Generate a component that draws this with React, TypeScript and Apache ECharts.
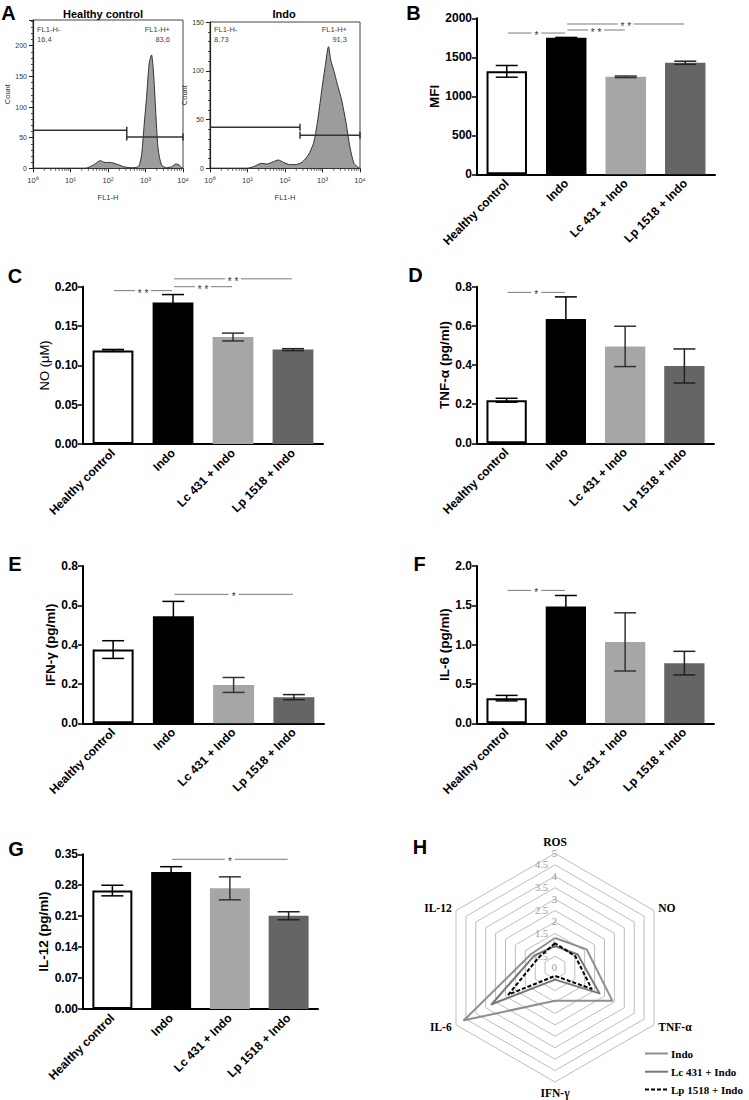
import React, { useEffect, useRef } from "react";
import * as echarts from "echarts";

// ---------------- data ----------------
const groups = ["Healthy control", "Indo", "Lc 431 + Indo", "Lp 1518 + Indo"];

// Panel A: flow cytometry histograms [log10(FL1-H), count]
const healthyHist = [
  [0, 0], [1.4, 0], [1.5, 2], [1.61, 5.4], [1.72, 10], [1.79, 12.4], [1.92, 9.5], [2.05, 9.5],
  [2.23, 7], [2.41, 2.7], [2.6, 1], [2.75, 1.5], [2.83, 4], [2.9, 24], [2.96, 68], [3.03, 117],
  [3.1, 172], [3.16, 185], [3.22, 150], [3.28, 84], [3.34, 30], [3.43, 5.4], [3.56, 1], [3.7, 2.6],
  [3.81, 7], [3.9, 5.4], [3.97, 1], [4, 0],
];
const indoHist = [
  [0, 0], [0.98, 0], [1.16, 1.7], [1.38, 5.1], [1.51, 4.4], [1.69, 6.8], [1.82, 8.5], [1.96, 6.1],
  [2.09, 4.1], [2.27, 3.8], [2.45, 6.1], [2.62, 13.6], [2.76, 25.6], [2.86, 46], [2.98, 80],
  [3.07, 104], [3.16, 124.7], [3.22, 111], [3.31, 99], [3.39, 87], [3.51, 70], [3.63, 46],
  [3.73, 22], [3.84, 5], [3.96, 0.7], [4, 0],
];
// gates: [from, to, level, tick at left end (1/0)]
const healthyGates = [[0, 2.5, 62, 0], [2.5, 4, 51, 1]];
const indoGates = [[0, 2.4, 42, 0], [2.4, 4, 34, 1]];
const healthyPct = ["16,4", "83,6"];
const indoPct = ["8,73", "91,3"];
const minorMultipliers = [2, 3, 4, 5, 6, 7, 8, 9];
const decades = [0, 1, 2, 3];

// Panels B-G: mean and SEM per group
const rosMean = [1320, 1750, 1250, 1430];
const rosSem = [75, 5, 10, 20];
const noMean = [0.119, 0.18, 0.136, 0.12];
const noSem = [0.0012, 0.01, 0.005, 0.0012];
const tnfMean = [0.22, 0.635, 0.495, 0.395];
const tnfSem = [0.01, 0.113, 0.103, 0.087];
const ifnMean = [0.375, 0.545, 0.195, 0.133];
const ifnSem = [0.045, 0.075, 0.038, 0.013];
const il6Mean = [0.32, 1.485, 1.035, 0.765];
const il6Sem = [0.035, 0.14, 0.37, 0.15];
const il12Mean = [0.268, 0.31, 0.273, 0.211];
const il12Sem = [0.012, 0.012, 0.026, 0.009];

// significance bars: [from group, to group, level]
const rosSig = [[0, 1, 1811], [1, 2, 1850], [1, 3, 1927]];
const rosSigText = ["*", "* *", "* *"];
const noSig = [[0, 1, 0.195], [1, 2, 0.2], [1, 3, 0.21]];
const noSigText = ["* *", "* *", "* *"];
const tnfSig = [[0, 1, 0.771]];
const tnfSigText = ["*"];
const ifnSig = [[1, 3, 0.656]];
const ifnSigText = ["*"];
const il6Sig = [[0, 1, 1.69]];
const il6SigText = ["*"];
const il12Sig = [[1, 3, 0.3387]];
const il12SigText = ["*"];

// Panel H: radar (fold change vs healthy control), clockwise from top
const radarAxes = ["ROS", "NO", "TNF-α", "IFN-γ", "IL-6", "IL-12"];
const radarTicks = [0, 0.5, 1, 1.5, 2, 2.5, 3, 3.5, 4, 4.5, 5];
const indoRatio = [1.3, 1.6, 2.9, 1.45, 4.6, 1.2];
const lcRatio = [0.95, 1.15, 2.25, 0.52, 3.2, 1.05];
const lpRatio = [1.07, 1.02, 1.85, 0.36, 2.35, 0.85];
const radarSeriesNames = ["Indo", "Lc 431 + Indo", "Lp 1518 + Indo"];

// ---------------- styles ----------------
const SANS = "'Liberation Sans', Arial, Helvetica, sans-serif";
const SERIF = "'Liberation Serif', 'Times New Roman', serif";
const barColors = ["#ffffff", "#000000", "#a6a6a6", "#656565"];
const errColors = ["#000000", "#000000", "#333333", "#222222"];
const SUP = ["⁰", "¹", "²", "³", "⁴"];

function buildOption() {
  const grids: any[] = [];
  const xAxes: any[] = [];
  const yAxes: any[] = [];
  const series: any[] = [];
  const graphic: any[] = [];

  // ---------- Panel A ----------
  const hists = [
    { left: 33, top: 20, height: 148.3, max: 242, hideMax: true, nameGap: 20, data: healthyHist, gates: healthyGates, pct: healthyPct, title: "Healthy control", titleX: 103 },
    { left: 210, top: 22, height: 146.3, max: 150, hideMax: false, nameGap: 21, data: indoHist, gates: indoGates, pct: indoPct, title: "Indo", titleX: 284 },
  ];
  const minorTicks: number[][] = [];
  decades.forEach((d) => minorMultipliers.forEach((m) => minorTicks.push([d + Math.log10(m), 0])));

  hists.forEach((h) => {
    const gi = grids.length;
    grids.push({ left: h.left, top: h.top, width: 150, height: h.height, show: true, borderColor: "#444", borderWidth: 1, backgroundColor: "transparent" });
    xAxes.push({
      type: "value", gridIndex: gi, min: 0, max: 4, interval: 1,
      axisLine: { lineStyle: { color: "#222", width: 1.2 } },
      axisTick: { length: 4, lineStyle: { color: "#222" } },
      splitLine: { show: false },
      axisLabel: { formatter: (v: number) => "10" + SUP[v], fontSize: 7.5, color: "#333", margin: 8, fontFamily: SANS },
      name: "FL1-H", nameLocation: "middle", nameGap: 25,
      nameTextStyle: { fontSize: 7.5, color: "#333", fontFamily: SANS },
    });
    yAxes.push({
      type: "value", gridIndex: gi, min: 0, max: h.max, interval: 50,
      axisLine: { show: true, lineStyle: { color: "#222", width: 1.2 } },
      axisTick: { show: true, length: 4, lineStyle: { color: "#222" } },
      minorTick: { show: true, splitNumber: 5, length: 2, lineStyle: { color: "#444" } },
      splitLine: { show: false },
      axisLabel: { fontSize: 7, color: "#333", margin: 6, showMaxLabel: !h.hideMax, fontFamily: SANS },
      name: "Count", nameLocation: "middle", nameGap: h.nameGap,
      nameTextStyle: { fontSize: 7.5, color: "#333", fontFamily: SANS },
    });
    series.push({
      type: "line", xAxisIndex: gi, yAxisIndex: gi, data: h.data, smooth: 0.25, symbol: "none",
      lineStyle: { color: "#333", width: 1 }, areaStyle: { color: "#9c9c9c", opacity: 1 }, silent: true, z: 2,
    });
    series.push({
      type: "custom", xAxisIndex: gi, yAxisIndex: gi, data: h.gates, encode: { x: [0, 1], y: 2 }, clip: false, z: 5,
      renderItem: (params: any, api: any) => {
        const a = api.coord([api.value(0), api.value(2)]);
        const b = api.coord([api.value(1), api.value(2)]);
        const st = { stroke: "#333", lineWidth: 1.5 };
        const ch: any[] = [
          { type: "line", shape: { x1: a[0], y1: a[1], x2: b[0], y2: b[1] }, style: st },
          { type: "line", shape: { x1: b[0], y1: b[1] - 3.5, x2: b[0], y2: b[1] + 3.5 }, style: st },
        ];
        if (api.value(3) === 1) ch.push({ type: "line", shape: { x1: a[0], y1: a[1] - 3.5, x2: a[0], y2: a[1] + 3.5 }, style: st });
        return { type: "group", children: ch };
      },
    });
    series.push({
      type: "custom", xAxisIndex: gi, yAxisIndex: gi, data: minorTicks, encode: { x: 0, y: 1 }, clip: false, silent: true,
      renderItem: (params: any, api: any) => {
        const p = api.coord([api.value(0), 0]);
        return { type: "line", shape: { x1: p[0], y1: p[1], x2: p[0], y2: p[1] + 2.5 }, style: { stroke: "#333", lineWidth: 0.8 } };
      },
    });
    // titles and gate labels
    graphic.push({ type: "text", x: h.titleX, y: 14, style: { text: h.title, fontFamily: SANS, fontWeight: "bold", fontSize: 11, fill: "#000", align: "center", verticalAlign: "middle" } });
    graphic.push({ type: "text", x: h.left + 4, y: 29, style: { text: "FL1-H-", fontFamily: SANS, fontSize: 7.5, fill: "#444", align: "left", verticalAlign: "middle" } });
    graphic.push({ type: "text", x: h.left + 4, y: 39, style: { text: h.pct[0], fontFamily: SANS, fontSize: 7.5, fill: "#444", align: "left", verticalAlign: "middle" } });
    graphic.push({ type: "text", x: h.left + 137, y: 29, style: { text: "FL1-H+", fontFamily: SANS, fontSize: 7.5, fill: "#444", align: "right", verticalAlign: "middle" } });
    graphic.push({ type: "text", x: h.left + 137, y: 39, style: { text: h.pct[1], fontFamily: SANS, fontSize: 7.5, fill: "#444", align: "right", verticalAlign: "middle" } });
  });

  // ---------- Panels B-G ----------
  const bars = [
    { l: 477, t: 18.3, w: 238, h: 156, mean: rosMean, sem: rosSem, sig: rosSig, sigText: rosSigText, max: 2000, interval: 500, dec: 0, name: "MFI", gap: 35, bold: true },
    { l: 83, t: 286.7, w: 240, h: 157.3, mean: noMean, sem: noSem, sig: noSig, sigText: noSigText, max: 0.2, interval: 0.05, dec: 2, name: "NO (μM)", gap: 28, bold: false },
    { l: 477, t: 286.7, w: 237, h: 156.6, mean: tnfMean, sem: tnfSem, sig: tnfSig, sigText: tnfSigText, max: 0.8, interval: 0.2, dec: 1, name: "TNF-α (pg/ml)", gap: 25, bold: true },
    { l: 83, t: 566, w: 241, h: 157.3, mean: ifnMean, sem: ifnSem, sig: ifnSig, sigText: ifnSigText, max: 0.8, interval: 0.2, dec: 1, name: "IFN-γ (pg/ml)", gap: 21, bold: true },
    { l: 477, t: 566, w: 237, h: 157.3, mean: il6Mean, sem: il6Sem, sig: il6Sig, sigText: il6SigText, max: 2.0, interval: 0.5, dec: 1, name: "IL-6 (pg/ml)", gap: 24, bold: true },
    { l: 83, t: 854.3, w: 235, h: 154.7, mean: il12Mean, sem: il12Sem, sig: il12Sig, sigText: il12SigText, max: 0.35, interval: 0.07, dec: 2, name: "IL-12 (pg/ml)", gap: 30, bold: true },
  ];

  bars.forEach((p) => {
    const gi = grids.length;
    grids.push({ left: p.l, top: p.t, width: p.w, height: p.h });
    xAxes.push({
      type: "category", gridIndex: gi, data: groups, boundaryGap: true,
      axisLine: { lineStyle: { color: "#000", width: 2 } },
      axisTick: { alignWithLabel: true, length: 5, lineStyle: { color: "#000", width: 1.5 } },
      axisLabel: { interval: 0, rotate: 45, margin: 7, color: "#000", fontFamily: SANS, fontWeight: "bold", fontSize: 12 },
    });
    yAxes.push({
      type: "value", gridIndex: gi, min: 0, max: p.max, interval: p.interval,
      axisLine: { show: true, lineStyle: { color: "#000", width: 2 } },
      axisTick: { show: true, length: 5, lineStyle: { color: "#000", width: 1.5 } },
      splitLine: { show: false },
      axisLabel: { formatter: (v: number) => v.toFixed(p.dec), color: "#000", fontFamily: SANS, fontWeight: "bold", fontSize: 12, margin: 5 },
      name: p.name, nameLocation: "middle", nameGap: p.gap,
      nameTextStyle: { color: "#000", fontFamily: SANS, fontWeight: p.bold ? "bold" : "normal", fontSize: p.bold ? 13.5 : 13 },
    });
    series.push({
      type: "bar", xAxisIndex: gi, yAxisIndex: gi, barWidth: "68%", silent: true,
      data: p.mean.map((v, i) => ({
        value: v,
        itemStyle: { color: barColors[i], borderColor: i === 0 ? "#000" : barColors[i], borderWidth: i === 0 ? 2 : 0 },
      })),
    });
    series.push({
      type: "custom", xAxisIndex: gi, yAxisIndex: gi, clip: false, silent: true, z: 4,
      data: p.mean.map((v, i) => [i, v - p.sem[i], v + p.sem[i]]),
      encode: { x: 0, y: [1, 2] },
      renderItem: (params: any, api: any) => {
        const i = api.value(0);
        const lo = api.coord([i, api.value(1)]);
        const hi = api.coord([i, api.value(2)]);
        const hw = 11;
        const st = { stroke: errColors[i], lineWidth: 1.5 };
        return {
          type: "group",
          children: [
            { type: "line", shape: { x1: lo[0], y1: lo[1], x2: hi[0], y2: hi[1] }, style: st },
            { type: "line", shape: { x1: hi[0] - hw, y1: hi[1], x2: hi[0] + hw, y2: hi[1] }, style: st },
            { type: "line", shape: { x1: lo[0] - hw, y1: lo[1], x2: lo[0] + hw, y2: lo[1] }, style: st },
          ],
        };
      },
    });
    series.push({
      type: "custom", xAxisIndex: gi, yAxisIndex: gi, clip: false, silent: true, z: 4,
      data: p.sig, encode: { x: [0, 1], y: 2 },
      renderItem: (params: any, api: any) => {
        const t = p.sigText[params.dataIndex];
        const a = api.coord([api.value(0), api.value(2)]);
        const b = api.coord([api.value(1), api.value(2)]);
        const mid = (a[0] + b[0]) / 2;
        const g = t.length > 1 ? 8 : 5;
        const st = { stroke: "#7a7a7a", lineWidth: 1 };
        return {
          type: "group",
          children: [
            { type: "line", shape: { x1: a[0] + 1, y1: a[1], x2: mid - g, y2: a[1] }, style: st },
            { type: "line", shape: { x1: mid + g, y1: a[1], x2: b[0] - 1, y2: a[1] }, style: st },
            { type: "text", style: { text: t, x: mid, y: a[1] + 2.5, align: "center", verticalAlign: "middle", fontSize: 10, fill: "#333", fontFamily: SANS } },
          ],
        };
      },
    });
  });

  // ---------- Panel H ----------
  const center = [555, 967.7];
  const radius = 114.3;
  const ccw = (a: any[]) => [a[0], a[5], a[4], a[3], a[2], a[1]];
  const ccwAxes = ccw(radarAxes) as string[];
  const radar = {
    center, radius, startAngle: 90, shape: "polygon", splitNumber: 10,
    indicator: ccwAxes.map((n) => ({ name: n, min: 0, max: 5 })),
    axisName: { color: "#000", fontFamily: SERIF, fontWeight: "bold", fontSize: 11.5 },
    nameGap: 5,
    splitLine: { lineStyle: { color: "#bdbdbd", width: 1 } },
    splitArea: { show: false },
    axisLine: { show: false },
    axisTick: { show: false },
    axisLabel: { show: false },
  };
  const rgi = grids.length;
  grids.push({ left: center[0], top: center[1] - radius, width: 10, height: radius });
  xAxes.push({ type: "value", gridIndex: rgi, show: false, min: 0, max: 1 });
  yAxes.push({
    type: "value", gridIndex: rgi, min: radarTicks[0], max: radarTicks[radarTicks.length - 1], interval: radarTicks[1] - radarTicks[0],
    axisLine: { show: false }, axisTick: { show: false }, splitLine: { show: false },
    axisLabel: {
      margin: -2, color: "#9a9a9a", fontFamily: SERIF, fontSize: 10.5,
      formatter: (v: number) => (Number.isInteger(v) ? String(v) : `{h|${v}}`),
      rich: { h: { color: "#9a9a9a", fontFamily: SERIF, fontSize: 10.5, padding: [0, 9, 0, 0] } },
    },
  });
  const radarStyles = [
    { color: "#8e8e8e", width: 2, type: "solid" },
    { color: "#787878", width: 2, type: "solid" },
    { color: "#000000", width: 2, type: [4, 2] },
  ];
  const radarValues = [indoRatio, lcRatio, lpRatio];
  series.push({
    type: "radar", radarIndex: 0, symbol: "none", silent: true, z: 3,
    data: radarValues.map((v, i) => ({
      value: ccw(v), name: radarSeriesNames[i],
      lineStyle: radarStyles[i], itemStyle: { color: radarStyles[i].color },
    })),
  });
  // legend for radar
  const legendY = [1053.5, 1071.7, 1089.5];
  radarSeriesNames.forEach((n, i) => {
    graphic.push({
      type: "line", shape: { x1: 645, y1: legendY[i], x2: 668, y2: legendY[i] },
      style: { stroke: radarStyles[i].color, lineWidth: 2, lineDash: i === 2 ? [4, 2] : null },
    });
    graphic.push({ type: "text", x: 671, y: legendY[i], style: { text: n, fontFamily: SERIF, fontWeight: "bold", fontSize: 11, fill: "#000", align: "left", verticalAlign: "middle" } });
  });

  // ---------- panel letters ----------
  const letters = [
    ["A", 8.5, 12.5], ["B", 413.5, 12.5], ["C", 15, 276], ["D", 415.5, 275],
    ["E", 15, 564], ["F", 419.5, 564], ["G", 16, 849], ["H", 420, 847],
  ];
  letters.forEach(([t, x, y]) => {
    graphic.push({ type: "text", x, y, style: { text: t, fontFamily: SANS, fontWeight: "bold", fontSize: 20, fill: "#000", align: "center", verticalAlign: "middle" } });
  });

  return {
    animation: false,
    backgroundColor: "#ffffff",
    grid: grids,
    xAxis: xAxes,
    yAxis: yAxes,
    radar,
    series,
    graphic,
  };
}

export default function App() {
  const ref = useRef<HTMLDivElement>(null);
  useEffect(() => {
    document.body.style.margin = "0";
    const chart = echarts.init(ref.current!, null, { renderer: "svg" });
    chart.setOption(buildOption() as any);
    return () => chart.dispose();
  }, []);
  return <div ref={ref} style={{ width: 749, height: 1100, background: "#fff" }} />;
}
